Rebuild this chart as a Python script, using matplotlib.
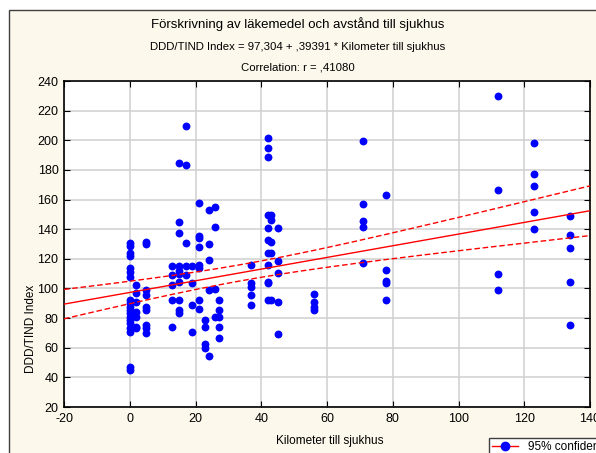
import numpy as np
import matplotlib
matplotlib.use('Agg')
import matplotlib.pyplot as plt
from matplotlib.patches import Rectangle
from matplotlib.lines import Line2D

plt.rcParams['font.family'] = ['Liberation Sans', 'DejaVu Sans']
plt.rcParams['axes.unicode_minus'] = False

# distance groups (km) and the DDD/TIND index values read at each distance
distances = [0, 2, 5, 13, 15, 17, 19, 21, 23, 24, 26, 27, 37, 42, 43, 45, 56, 71, 78, 112, 123, 134]
index_groups = [
    [130.7, 128.7, 124.0, 121.9, 113.8, 111.1, 107.7, 92.2, 90.2, 87.5, 85.5, 83.4, 80.8, 78.7, 76.7, 73.3, 70.6, 47.0, 45.0],
    [102.3, 97.0, 90.9, 84.1, 80.8, 74.0, 73.3],
    [131.4, 130.0, 99.0, 95.6, 87.5, 85.5, 75.4, 73.3, 70.0],
    [115.2, 109.0, 102.4, 92.2, 74.0],
    [184.7, 144.9, 137.4, 115.2, 112.0, 110.0, 104.4, 92.2, 85.5, 83.4],
    [209.6, 183.3, 130.7, 115.2, 109.0],
    [115.2, 103.7, 88.9, 70.6],
    [157.7, 135.4, 134.0, 128.0, 116.0, 114.0, 92.2, 86.2],
    [78.7, 74.0, 62.5, 59.8],
    [153.0, 130.0, 119.2, 99.0, 54.4],
    [155.0, 141.5, 99.6, 80.8],
    [92.2, 85.5, 80.8, 74.0, 66.6],
    [115.8, 103.7, 101.0, 95.6, 88.9],
    [201.5, 194.8, 188.7, 149.6, 140.8, 132.7, 124.0, 115.8, 104.4, 103.7, 92.2],
    [149.6, 146.2, 131.4, 124.0, 92.2],
    [140.8, 118.5, 110.4, 90.9, 69.3],
    [96.3, 90.9, 87.5, 85.5],
    [199.5, 157.0, 145.5, 141.5, 117.2],
    [163.0, 112.5, 105.0, 103.7, 92.2],
    [229.9, 166.4, 109.8, 99.0],
    [198.4, 177.2, 169.4, 151.6, 140.1],
    [148.9, 136.1, 127.3, 104.6, 75.4],
]
intercept = 97.304
slope = 0.39391

km = np.concatenate([[d] * len(g) for d, g in zip(distances, index_groups)]).astype(float)
ddd = np.concatenate(index_groups)

# 95% confidence band around the regression line
n = len(km)
resid = ddd - (intercept + slope * km)
s = np.sqrt(np.sum(resid ** 2) / (n - 2))
xbar = km.mean()
sxx = np.sum((km - xbar) ** 2)
xs = np.linspace(-20, 140, 200)
fit = intercept + slope * xs
half = 1.98 * s * np.sqrt(1 / n + (xs - xbar) ** 2 / sxx)

fig = plt.figure(figsize=(5.96, 4.53), dpi=100, facecolor='white')
fig.patches.append(Rectangle((9 / 596, -0.1), 1.2, 1 - 10 / 453 + 0.1, transform=fig.transFigure,
                             facecolor='#fdf8ec', edgecolor='#404040', lw=1.0, zorder=-5))

ax = fig.add_axes([64 / 596, 1 - 407 / 453, 526 / 596, 326 / 453])
ax.set_zorder(2)
ax.set_facecolor('white')
ax.scatter(km, ddd, s=32, color='#0000ff', zorder=3, linewidths=0)
ax.plot(xs, fit, color='#ff0000', lw=1.0, zorder=4)
ax.plot(xs, fit + half, color='#ff0000', lw=1.0, ls=(0, (4, 2)), zorder=4)
ax.plot(xs, fit - half, color='#ff0000', lw=1.0, ls=(0, (4, 2)), zorder=4)

ax.set_xlim(-20, 140)
ax.set_ylim(20, 240)
ax.set_xticks(range(-20, 141, 20))
ax.set_yticks(range(20, 241, 20))
ax.grid(True, color='#d0d0d0', lw=1.1)
ax.set_axisbelow(True)
ax.tick_params(direction='in', length=4, top=True, right=True, labelsize=9, pad=4)
for sp in ax.spines.values():
    sp.set_linewidth(1.2)
    sp.set_color('black')

fig.text(298 / 596, 1 - 24 / 453, 'Förskrivning av läkemedel och avstånd till sjukhus',
         ha='center', va='center', fontsize=9.5)
fig.text(298 / 596, 1 - 47 / 453, 'DDD/TIND Index = 97,304 + ,39391 * Kilometer till sjukhus',
         ha='center', va='center', fontsize=8.2)
fig.text(298 / 596, 1 - 67 / 453, 'Correlation: r = ,41080',
         ha='center', va='center', fontsize=8.2)
fig.text(31 / 596, 1 - 329 / 453, 'DDD/TIND Index', rotation=90, ha='center', va='center', fontsize=8.5)
fig.text(330 / 596, 1 - 441 / 453, 'Kilometer till sjukhus', ha='center', va='center', fontsize=8.5)

handle = Line2D([], [], color='#ff0000', lw=1.0, marker='o', markersize=6,
                markerfacecolor='#0000ff', markeredgecolor='#0000ff')
fig.legend([handle], ['95% confidence'], loc='upper left', bbox_to_anchor=(483 / 596, 1 - 432 / 453),
           fontsize=8.5, frameon=True, fancybox=False, edgecolor='#404040', handlelength=2.2,
           borderpad=0.3, framealpha=1)

fig.savefig('out.png', dpi=100, facecolor=fig.get_facecolor())
